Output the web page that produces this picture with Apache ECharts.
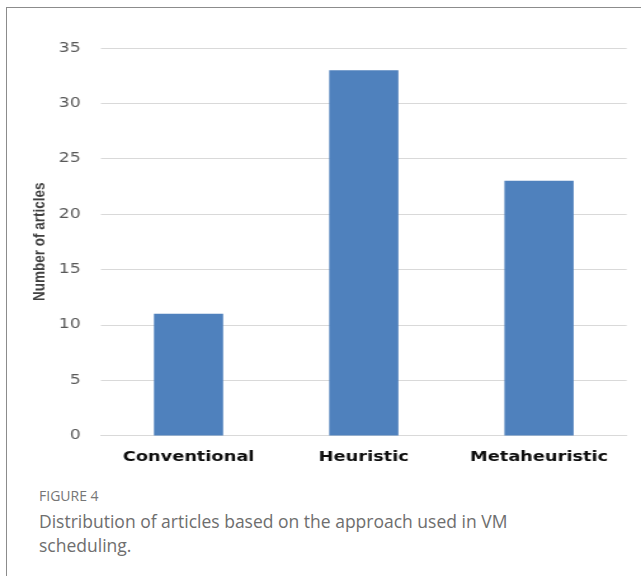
<!DOCTYPE html>
<html>
<head>
<meta charset="utf-8">
<script src="https://cdn.jsdelivr.net/npm/echarts@6/dist/echarts.min.js"></script>
<style>
  html, body { margin: 0; padding: 0; background: #fff; width: 641px; height: 576px; overflow: hidden; }
  #frame {
    position: absolute; left: 6px; top: 7px; width: 700px; height: 640px;
    border-top: 1px solid #8c8c8c; border-left: 1px solid #8c8c8c;
  }
  /* the plot is laid out narrow and widened horizontally */
  #chart {
    position: absolute; left: 0; top: 0; width: 505px; height: 480px;
    transform: scaleX(1.2693); transform-origin: 0 0;
  }
  #caption {
    position: absolute; left: 39px; top: 487px; width: 500px;
    font-family: "Open Sans", sans-serif; color: #6e6e6e;
  }
  #caption .label { font-size: 14px; line-height: 18px; color: #767676; }
  #caption .text { font-size: 17.5px; line-height: 24px; margin-top: 4px; }
</style>
</head>
<body>
<div id="frame"></div>
<div id="chart"></div>
<div id="caption">
  <div class="label">FIGURE 4</div>
  <div class="text">Distribution of articles based on the approach used in VM scheduling.</div>
</div>
<script>
// Articles per scheduling approach
const categories = ['Conventional', 'Heuristic', 'Metaheuristic'];
const articleCounts = [11, 33, 23];

// Value axis range
const yMin = 0;
const yMax = 35;
const yStep = 5;
const yAxisTitle = 'Number of articles';

const chart = echarts.init(document.getElementById('chart'), null, { renderer: 'canvas' });

chart.setOption({
  animation: false,
  grid: { left: 79.5, right: 11.3, top: 48, bottom: 44.5, containLabel: false },
  xAxis: {
    type: 'category',
    data: categories,
    axisLine: { show: true, lineStyle: { color: '#d9d9d9', width: 1 } },
    axisTick: { show: false },
    axisLabel: {
      interval: 0,
      hideOverlap: false,
      margin: 15,
      fontFamily: 'DejaVu Sans',
      fontWeight: 'bold',
      fontSize: 14,
      color: '#0d0d0d'
    }
  },
  yAxis: {
    type: 'value',
    min: yMin,
    max: yMax,
    interval: yStep,
    name: yAxisTitle,
    nameLocation: 'middle',
    nameRotate: 90,
    nameGap: 41,
    nameMoveOverlap: false,
    nameTextStyle: {
      fontFamily: 'Liberation Sans',
      fontWeight: 'bold',
      fontSize: 13.5,
      color: '#404040'
    },
    axisLine: { show: false },
    axisTick: { show: false },
    axisLabel: {
      margin: 16,
      fontFamily: 'DejaVu Sans',
      fontSize: 13.5,
      color: '#595959'
    },
    splitLine: { lineStyle: { color: '#d9d9d9', width: 1 } }
  },
  series: [{
    type: 'bar',
    data: articleCounts,
    barCategoryGap: '60.5%',
    itemStyle: { color: '#4f81bd' }
  }]
});
</script>
</body>
</html>
